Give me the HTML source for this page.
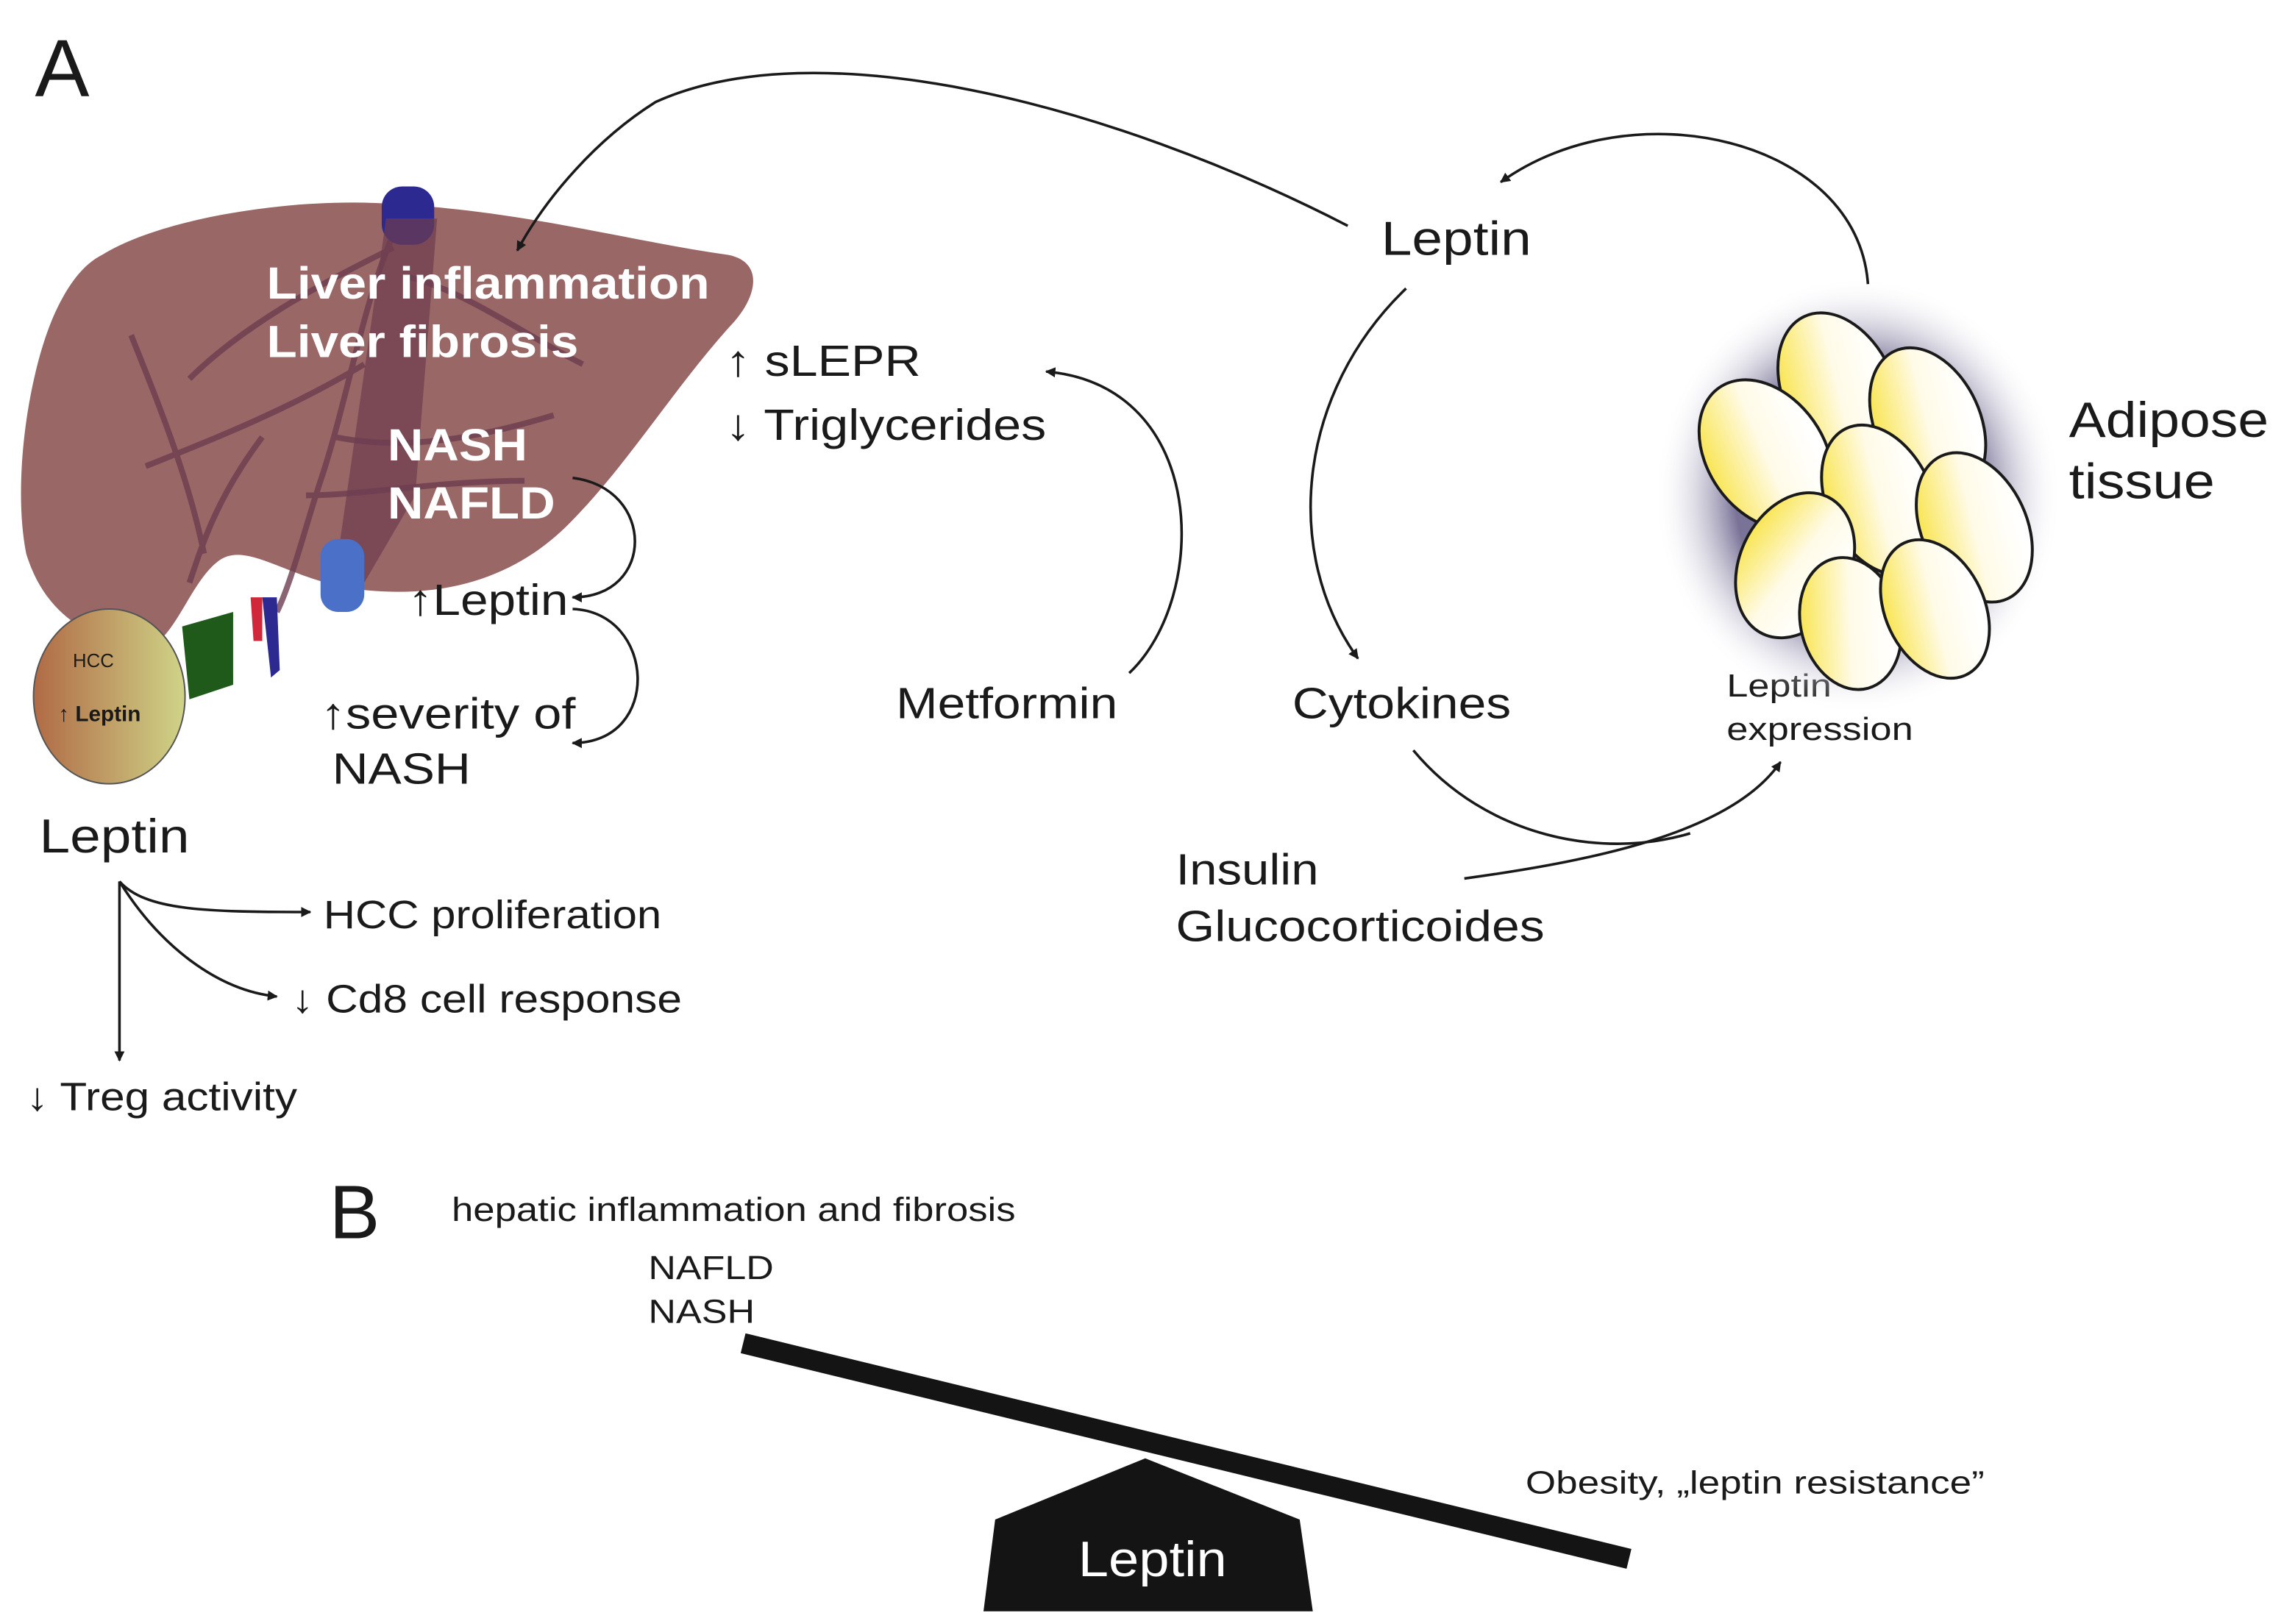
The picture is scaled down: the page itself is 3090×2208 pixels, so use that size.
<!DOCTYPE html>
<html><head><meta charset="utf-8"><style>
html,body{margin:0;padding:0;background:#fff;}
svg{display:block;}
text{font-family:"Liberation Sans",sans-serif;fill:#1a1a1a;}
</style></head><body>
<svg width="3090" height="2208" viewBox="0 0 1560 1114.7" xmlns="http://www.w3.org/2000/svg">
<defs>
<marker id="ah" viewBox="0 0 10 10" refX="9" refY="5" markerWidth="7" markerHeight="7" orient="auto-start-reverse" markerUnits="userSpaceOnUse"><path d="M0,0 L10,5 L0,10 z" fill="#1a1a1a"/></marker>
<linearGradient id="hcc" x1="0" y1="0" x2="1" y2="0"><stop offset="0" stop-color="#b06a45"/><stop offset="1" stop-color="#cfd488"/></linearGradient>
<linearGradient id="cell" x1="0" y1="0" x2="1" y2="0.3"><stop offset="0" stop-color="#f7e030"/><stop offset="0.6" stop-color="#fffbe8"/><stop offset="1" stop-color="#ffffff"/></linearGradient>
<radialGradient id="glow"><stop offset="0.6" stop-color="#7a7398"/><stop offset="1" stop-color="#ffffff" stop-opacity="0"/></radialGradient>
</defs>

<text x="24" y="66" font-size="56">A</text>

<!-- liver -->
<path d="M70,175 C110,150 200,135 270,140 C360,145 430,165 500,175 C525,180 520,205 500,225 C460,270 430,320 390,360 C350,400 300,410 250,405 C200,400 170,370 150,385 C130,400 120,440 100,445 C60,440 30,420 18,380 C8,330 20,250 40,210 C50,190 60,180 70,175 Z" fill="#9a6767"/>
<g stroke="#6d3d50" stroke-width="4" fill="none" opacity="0.8">
<path d="M275,150 C250,200 240,270 220,330 C210,360 200,400 190,420"/>
<path d="M270,170 C230,190 170,220 130,260"/>
<path d="M280,190 C320,200 360,230 400,250"/>
<path d="M250,250 C200,280 150,300 100,320"/>
<path d="M230,300 C280,310 330,300 380,285"/>
<path d="M210,340 C250,340 300,330 360,330"/>
<path d="M180,300 C150,340 140,370 130,400"/>
<path d="M90,230 C110,280 130,330 140,380"/>
</g>
<rect x="262" y="128" width="36" height="40" rx="14" fill="#2c2a90"/>
<path d="M265,150 L300,150 L285,340 L250,400 L230,395 Z" fill="#6d3d50" opacity="0.7"/>
<rect x="220" y="370" width="30" height="50" rx="12" fill="#4a70c8"/>
<path d="M180,410 L190,410 L192,460 L186,465 Z" fill="#2c2a90"/>
<path d="M172,410 L180,410 L180,440 L174,440 Z" fill="#d0283a"/>
<path d="M125,430 L160,420 L160,470 L130,480 Z" fill="#1f5a1a"/>
<ellipse cx="75" cy="478" rx="52" ry="60" fill="url(#hcc)" stroke="#555" stroke-width="1"/>
<text x="50" y="458" font-size="13" fill="#5a3a2a">HCC</text>
<text x="40" y="495" font-size="15" font-weight="bold">↑ Leptin</text>

<g font-weight="bold" font-size="31" lengthAdjust="spacingAndGlyphs">
<text x="183" y="205" style="fill:#fff" textLength="304" lengthAdjust="spacingAndGlyphs">Liver inflammation</text>
<text x="183" y="245" style="fill:#fff" textLength="214" lengthAdjust="spacingAndGlyphs">Liver fibrosis</text>
<text x="266" y="316" style="fill:#fff" textLength="96" lengthAdjust="spacingAndGlyphs">NASH</text>
<text x="266" y="356" style="fill:#fff" textLength="115" lengthAdjust="spacingAndGlyphs">NAFLD</text>
</g>

<g font-size="30">
<text x="498" y="258" textLength="134" lengthAdjust="spacingAndGlyphs">↑ sLEPR</text>
<text x="498" y="302" textLength="220" lengthAdjust="spacingAndGlyphs">↓ Triglycerides</text>
<text x="280" y="422" textLength="110" lengthAdjust="spacingAndGlyphs">↑Leptin</text>
<text x="220" y="500" textLength="175" lengthAdjust="spacingAndGlyphs">↑severity of</text>
<text x="228" y="538" textLength="95" lengthAdjust="spacingAndGlyphs">NASH</text>
<text x="27" y="585" font-size="33" textLength="103" lengthAdjust="spacingAndGlyphs">Leptin</text>
<text x="948" y="175" font-size="33" textLength="103" lengthAdjust="spacingAndGlyphs">Leptin</text>
<text x="615" y="493" textLength="152" lengthAdjust="spacingAndGlyphs">Metformin</text>
<text x="887" y="493" textLength="150" lengthAdjust="spacingAndGlyphs">Cytokines</text>
<text x="807" y="607" textLength="98" lengthAdjust="spacingAndGlyphs">Insulin</text>
<text x="807" y="646" textLength="253" lengthAdjust="spacingAndGlyphs">Glucocorticoides</text>
<text x="1420" y="300" font-size="34" textLength="137" lengthAdjust="spacingAndGlyphs">Adipose</text>
<text x="1420" y="342" font-size="34" textLength="100" lengthAdjust="spacingAndGlyphs">tissue</text>
</g>
<g font-size="27">
<text x="222" y="637" textLength="232" lengthAdjust="spacingAndGlyphs">HCC proliferation</text>
<text x="200" y="695" textLength="268" lengthAdjust="spacingAndGlyphs">↓ Cd8 cell response</text>
<text x="18" y="762" textLength="186" lengthAdjust="spacingAndGlyphs">↓ Treg activity</text>
</g>
<text x="1185" y="478" font-size="22" textLength="72" lengthAdjust="spacingAndGlyphs">Leptin</text>
<text x="1185" y="508" font-size="22" textLength="128" lengthAdjust="spacingAndGlyphs">expression</text>

<!-- adipose -->
<ellipse cx="1275" cy="340" rx="140" ry="150" fill="url(#glow)"/>
<g stroke="#1a1a1a" stroke-width="2" fill="url(#cell)">
<ellipse cx="1262" cy="268" rx="38" ry="56" transform="rotate(-25 1262 268)"/>
<ellipse cx="1323" cy="290" rx="36" ry="54" transform="rotate(-25 1323 290)"/>
<ellipse cx="1212" cy="312" rx="40" ry="56" transform="rotate(-35 1212 312)"/>
<ellipse cx="1290" cy="343" rx="36" ry="54" transform="rotate(-25 1290 343)"/>
<ellipse cx="1355" cy="362" rx="36" ry="54" transform="rotate(-25 1355 362)"/>
<ellipse cx="1232" cy="388" rx="38" ry="52" transform="rotate(25 1232 388)"/>
<ellipse cx="1270" cy="428" rx="34" ry="46" transform="rotate(-15 1270 428)"/>
<ellipse cx="1328" cy="418" rx="34" ry="50" transform="rotate(-25 1328 418)"/>
</g>

<!-- arrows -->
<g stroke="#1a1a1a" stroke-width="1.8" fill="none" marker-end="url(#ah)">
<path d="M925,155 C760,70 560,20 450,70 C410,95 375,135 355,172"/>
<path d="M1282,195 C1275,95 1120,60 1030,125"/>
<path d="M965,198 C890,270 880,380 932,452"/>
<path d="M775,462 C830,410 830,265 718,255"/>
<path d="M393,328 C450,335 450,410 393,410"/>
<path d="M393,418 C450,420 455,510 393,510"/>
<path d="M970,515 C1020,575 1100,590 1160,572" marker-end="none"/>
<path d="M1005,603 C1100,590 1190,570 1222,523"/>
<path d="M82,605 C100,625 140,626 213,626"/>
<path d="M82,605 C110,650 150,680 190,684"/>
<path d="M82,605 L82,728"/>
</g>

<!-- B -->
<text x="226" y="850" font-size="52">B</text>
<text x="310" y="838" font-size="23" textLength="387" lengthAdjust="spacingAndGlyphs">hepatic inflammation and fibrosis</text>
<text x="445" y="878" font-size="23" textLength="86" lengthAdjust="spacingAndGlyphs">NAFLD</text>
<text x="445" y="908" font-size="23" textLength="73" lengthAdjust="spacingAndGlyphs">NASH</text>
<text x="1047" y="1025" font-size="22" textLength="315" lengthAdjust="spacingAndGlyphs">Obesity, „leptin resistance”</text>
<line x1="510" y1="922" x2="1118" y2="1070" stroke="#141414" stroke-width="14"/>
<polygon points="675,1106 683,1043 786,1001 892,1043 901,1106" fill="#141414"/>
<text x="740" y="1082" font-size="34" textLength="102" lengthAdjust="spacingAndGlyphs" style="fill:#fff">Leptin</text>
</svg>
</body></html>
